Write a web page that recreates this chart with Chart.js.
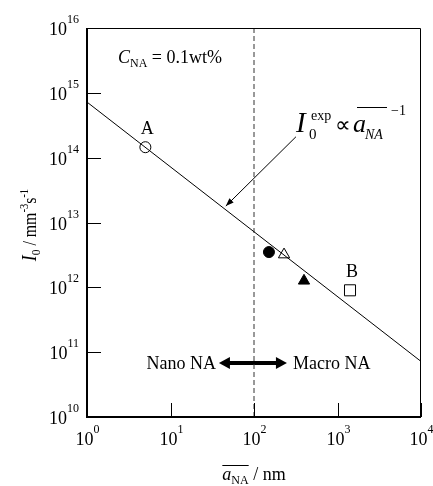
<!DOCTYPE html>
<html>
<head>
<meta charset="utf-8">
<script src="https://cdn.jsdelivr.net/npm/chart.js@4/dist/chart.umd.min.js"></script>
<style>
  html, body { margin: 0; padding: 0; background: #fff; }
  canvas { display: block; }
</style>
</head>
<body>
<canvas id="chart" width="433" height="486"></canvas>
<script>
// axis ranges (log10 decades) and tick exponents
const xRange = [1, 1e4];
const yRange = [1e10, 1e16];
const xTickExp = [0, 1, 2, 3, 4];
const yTickExp = [10, 11, 12, 13, 14, 15, 16];

// fitted line I0 ~ a^-1
const fitX = [1, 1e4];
const fitY = [7.2e14, 7.2e10];

// measured points
const markerX = [5, 151, 229, 397, 1412];
const markerY = [1.45e14, 3.5e12, 3.2e12, 1.26e12, 9.0e11];
const markerLabels = ['A', '', '', '', 'B'];

// nano / macro boundary and the double arrow
const boundaryX = 100;
const arrowX = [38, 248];
const arrowY = 6.8e10;

// leader arrow pointing at the fit line
const leaderX = [318, 46];
const leaderY = [2.1e14, 1.79e13];

const FONT = '"Liberation Serif", "Times New Roman", serif';

function pts(xs, ys) {
  return xs.map((x, i) => ({ x, y: Array.isArray(ys) ? ys[i] : ys }));
}

function marker(i, style, filled, radius) {
  return {
    data: [{ x: markerX[i], y: markerY[i] }],
    pointStyle: style,
    pointRadius: radius,
    pointBorderWidth: 1,
    pointBorderColor: '#000',
    pointBackgroundColor: filled ? '#000' : '#fff',
    showLine: false
  };
}

// draw a run of text pieces: [text, font, dy]
function rich(ctx, parts, x, y, align) {
  let total = 0;
  parts.forEach(p => { ctx.font = p[1]; total += ctx.measureText(p[0]).width; });
  let cx = align === 'center' ? x - total / 2 : align === 'right' ? x - total : x;
  ctx.textAlign = 'left';
  ctx.textBaseline = 'alphabetic';
  parts.forEach(p => {
    ctx.font = p[1];
    ctx.fillText(p[0], cx, y + (p[2] || 0));
    cx += ctx.measureText(p[0]).width;
  });
  return total;
}

function arrowHead(ctx, fromX, fromY, toX, toY, len, half) {
  const a = Math.atan2(toY - fromY, toX - fromX);
  ctx.beginPath();
  ctx.moveTo(toX, toY);
  ctx.lineTo(toX - len * Math.cos(a) + half * Math.sin(a), toY - len * Math.sin(a) - half * Math.cos(a));
  ctx.lineTo(toX - len * Math.cos(a) - half * Math.sin(a), toY - len * Math.sin(a) + half * Math.cos(a));
  ctx.closePath();
  ctx.fill();
}

const decorations = {
  id: 'decorations',
  afterDatasetsDraw(chart) {
    const ctx = chart.ctx;
    const a = chart.chartArea;
    const xs = chart.scales.x, ys = chart.scales.y;
    ctx.save();
    ctx.fillStyle = '#000';
    ctx.strokeStyle = '#000';

    // frame
    ctx.lineWidth = 1;
    ctx.beginPath();
    ctx.moveTo(a.left, a.top + 0.5); ctx.lineTo(a.right - 0.5, a.top + 0.5);
    ctx.lineTo(a.right - 0.5, a.bottom);
    ctx.stroke();
    ctx.lineWidth = 2;
    ctx.beginPath();
    ctx.moveTo(a.left, a.top); ctx.lineTo(a.left, a.bottom); ctx.lineTo(a.right, a.bottom);
    ctx.stroke();

    // inward ticks + labels
    ctx.lineWidth = 1;
    yTickExp.forEach(e => {
      const py = Math.round(ys.getPixelForValue(Math.pow(10, e))) + 0.5;
      ctx.beginPath(); ctx.moveTo(a.left, py); ctx.lineTo(a.left + 14, py); ctx.stroke();
      rich(ctx, [['10', '18px ' + FONT, 0], [String(e), '12px ' + FONT, -12]], a.left - 8, py + 6, 'right');
    });
    xTickExp.forEach(e => {
      const px = Math.round(xs.getPixelForValue(Math.pow(10, e))) + 0.5;
      ctx.beginPath(); ctx.moveTo(px, a.bottom); ctx.lineTo(px, a.bottom - 14); ctx.stroke();
      rich(ctx, [['10', '18px ' + FONT, 0], [String(e), '12px ' + FONT, -12]], px, a.bottom + 28, 'center');
    });

    // point labels
    markerLabels.forEach((t, i) => {
      if (!t) return;
      const px = xs.getPixelForValue(markerX[i]);
      const py = ys.getPixelForValue(markerY[i]);
      rich(ctx, [[t, '18px ' + FONT, 0]], px + 2, py - 13, 'center');
    });

    // double arrow heads
    const ax0 = xs.getPixelForValue(arrowX[0]), ax1 = xs.getPixelForValue(arrowX[1]);
    const ay = ys.getPixelForValue(arrowY);
    arrowHead(ctx, ax0 + 20, ay, ax0, ay, 11, 6);
    arrowHead(ctx, ax1 - 20, ay, ax1, ay, 11, 6);
    rich(ctx, [['Nano NA', '18px ' + FONT, 0]], ax0 - 3, ay + 6, 'right');
    rich(ctx, [['Macro NA', '18px ' + FONT, 0]], ax1 + 6, ay + 6, 'left');

    // leader arrow head
    const lx0 = xs.getPixelForValue(leaderX[0]), ly0 = ys.getPixelForValue(leaderY[0]);
    const lx1 = xs.getPixelForValue(leaderX[1]), ly1 = ys.getPixelForValue(leaderY[1]);
    arrowHead(ctx, lx0, ly0, lx1, ly1, 8, 3);

    // C_NA = 0.1wt%
    rich(ctx, [['C', 'italic 18px ' + FONT, 0], ['NA', '12px ' + FONT, 4], [' = 0.1wt%', '18px ' + FONT, 0]], 118, 63, 'left');

    // I0^exp ∝ a_NA^-1
    ctx.textAlign = 'left';
    ctx.font = 'italic 29px ' + FONT;
    ctx.fillText('I', 296, 132);
    ctx.font = '15px ' + FONT;
    ctx.fillText('0', 309, 139);
    ctx.font = '14px ' + FONT;
    ctx.fillText('exp', 311, 120);
    ctx.font = '22px ' + FONT;
    ctx.fillText('\u221D', 335, 132);
    ctx.font = 'italic 26px ' + FONT;
    ctx.fillText('a', 353, 132);
    ctx.font = 'italic 14px ' + FONT;
    ctx.fillText('NA', 365, 139);
    ctx.fillRect(357, 107, 30, 1);
    ctx.font = '14px ' + FONT;
    ctx.fillText('\u22121', 391, 115);

    // axis titles
    ctx.save();
    ctx.translate(36, 225);
    ctx.rotate(-Math.PI / 2);
    ctx.scale(0.88, 1);
    rich(ctx, [['I', 'italic 20px ' + FONT, 0], ['0', '13px ' + FONT, 4], [' / mm', '18px ' + FONT, 0],
               ['-3', '12px ' + FONT, -8], ['s', '18px ' + FONT, 0], ['-1', '12px ' + FONT, -8]], 0, 0, 'center');
    ctx.restore();

    const w = rich(ctx, [['a', 'italic 18px ' + FONT, 0], ['NA', '12px ' + FONT, 4], [' / nm', '18px ' + FONT, 0]], 254, 480, 'center');
    const startX = 254 - w / 2;
    ctx.font = 'italic 18px ' + FONT;
    const aw = ctx.measureText('a').width;
    ctx.font = '12px ' + FONT;
    const nw = ctx.measureText('NA').width;
    ctx.fillRect(startX, 465, aw + nw, 1);

    ctx.restore();
  }
};

new Chart(document.getElementById('chart'), {
  type: 'scatter',
  data: {
    datasets: [
      { data: pts(fitX, fitY), showLine: true, borderColor: '#000', borderWidth: 1, pointRadius: 0 },
      { data: [{ x: boundaryX, y: yRange[0] }, { x: boundaryX, y: yRange[1] }], showLine: true,
        borderColor: '#333', borderWidth: 1, borderDash: [5, 3], pointRadius: 0 },
      { data: pts(arrowX.map((v, i) => i === 0 ? v * 1.25 : v / 1.25), arrowY), showLine: true,
        borderColor: '#000', borderWidth: 4, pointRadius: 0 },
      { data: pts(leaderX, leaderY), showLine: true, borderColor: '#000', borderWidth: 1, pointRadius: 0 },
      marker(0, 'circle', false, 5.5),
      marker(1, 'circle', true, 5.5),
      marker(2, 'triangle', false, 6.5),
      marker(3, 'triangle', true, 6.5),
      marker(4, 'rect', false, 7.8)
    ]
  },
  options: {
    responsive: false,
    devicePixelRatio: 1,
    animation: false,
    layout: { padding: { left: 87, right: 12, top: 28, bottom: 69 } },
    plugins: { legend: { display: false }, tooltip: { enabled: false } },
    scales: {
      x: { type: 'logarithmic', min: xRange[0], max: xRange[1], display: false },
      y: { type: 'logarithmic', min: yRange[0], max: yRange[1], display: false }
    }
  },
  plugins: [decorations]
});
</script>
</body>
</html>
